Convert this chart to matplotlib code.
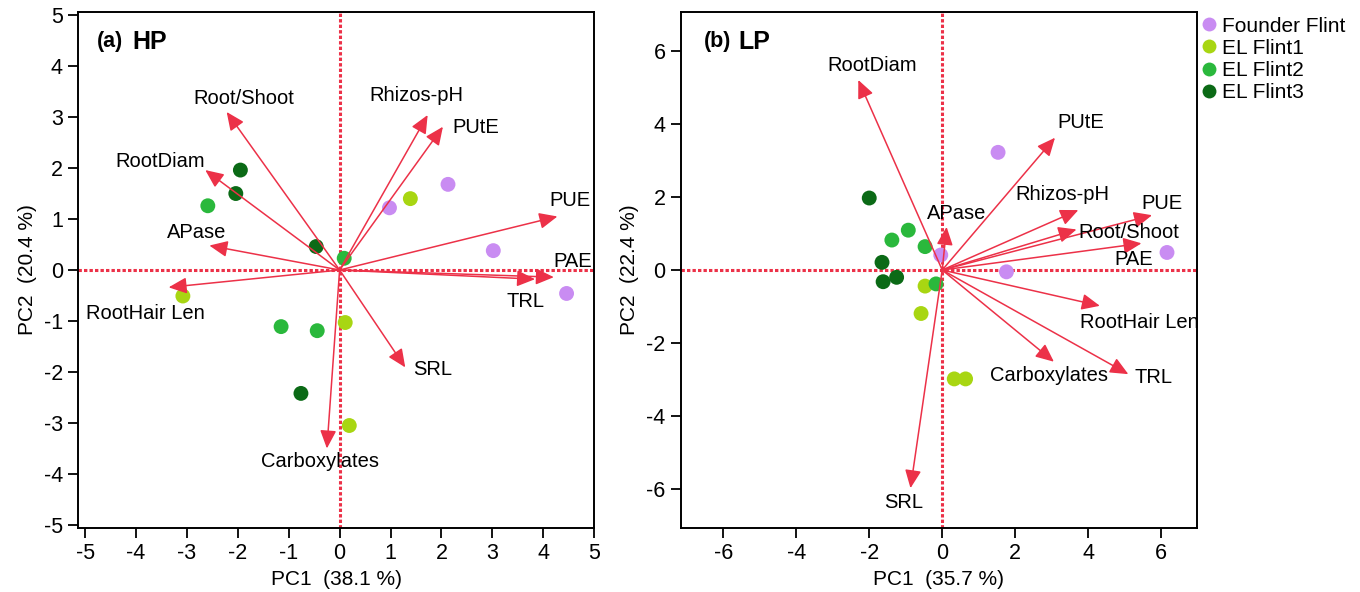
import matplotlib
matplotlib.use("Agg")
import matplotlib.pyplot as plt
from matplotlib.lines import Line2D

plt.rcParams["font.family"] = ["Liberation Sans", "DejaVu Sans"]
plt.rcParams["axes.unicode_minus"] = False   # plain hyphen minus like the original

GROUPS = ["Founder Flint", "EL Flint1", "EL Flint2", "EL Flint3"]
GROUP_COLORS = ["#c98cf2", "#a8d612", "#2ab83c", "#0b6a16"]

# PCA scores (PC1, PC2) per group
HP_PC1 = [[0.98, 2.13, 3.02, 4.46],
          [1.39, -3.08, 0.11, 0.19],
          [-2.59, 0.09, -1.15, -0.44],
          [-1.95, -2.04, -0.46, -0.76]]
HP_PC2 = [[1.22, 1.68, 0.38, -0.46],
          [1.40, -0.51, -1.03, -3.05],
          [1.26, 0.23, -1.11, -1.19],
          [1.96, 1.50, 0.46, -2.42]]
LP_PC1 = [[-0.04, 1.53, 1.76, 6.16],
          [-0.47, -0.58, 0.33, 0.64],
          [-0.93, -1.38, -0.47, -0.17],
          [-2.00, -1.65, -1.62, -1.25]]
LP_PC2 = [[0.41, 3.22, -0.05, 0.48],
          [-0.44, -1.19, -2.98, -2.98],
          [1.09, 0.82, 0.64, -0.38],
          [1.97, 0.21, -0.32, -0.20]]

# loadings (arrow tips)
HP_VARS = ["Root/Shoot", "RootDiam", "APase", "RootHair Len", "Rhizos-pH", "PUtE",
           "PUE", "PAE", "TRL", "SRL", "Carboxylates"]
HP_LOAD1 = [-2.22, -2.64, -2.56, -3.36, 1.73, 2.03, 4.28, 4.21, 3.84, 1.29, -0.25]
HP_LOAD2 = [3.10, 1.96, 0.48, -0.34, 3.04, 2.81, 1.05, -0.14, -0.18, -1.91, -3.50]

LP_VARS = ["RootDiam", "APase", "PUtE", "Rhizos-pH", "PUE", "Root/Shoot", "PAE",
           "RootHair Len", "Carboxylates", "TRL", "SRL"]
LP_LOAD1 = [-2.30, 0.12, 3.09, 3.73, 5.75, 3.68, 5.46, 4.32, 3.06, 5.10, -0.87]
LP_LOAD2 = [5.20, 1.18, 3.62, 1.64, 1.50, 1.11, 0.73, -0.98, -2.51, -2.85, -5.97]

# label placement (layout only)
HP_LABEL_XY = [(-1.88, 3.37), (-3.53, 2.12), (-2.81, 0.73), (-3.81, -0.85), (1.50, 3.43),
               (2.68, 2.79), (4.53, 1.37), (4.59, 0.16), (3.66, -0.62), (1.83, -1.95),
               (-0.38, -3.75)]
LP_LABEL_XY = [(-1.93, 5.61), (0.39, 1.55), (3.79, 4.03), (3.29, 2.07), (6.01, 1.82),
               (5.12, 1.03), (5.26, 0.29), (5.40, -1.43), (2.92, -2.90), (5.80, -2.94),
               (-1.07, -6.37)]

RED = "#ec3148"


def draw_panel(ax, pc1, pc2, names, l1, l2, label_xy, tag, cond, xlim, ylim, xticks, yticks,
               xlab, ylab):
    ax.set_xlim(*xlim)
    ax.set_ylim(*ylim)
    ax.axhline(0, color=RED, lw=2.2, ls=(0, (1.1, 0.7)), zorder=1)
    ax.axvline(0, color=RED, lw=2.2, ls=(0, (1.1, 0.7)), zorder=1)
    for xs, ys, c in zip(pc1, pc2, GROUP_COLORS):
        ax.scatter(xs, ys, s=115, color=c, edgecolors="none", zorder=3)
    for n, a, b, (tx, ty) in zip(names, l1, l2, label_xy):
        ax.annotate("", xy=(a, b), xytext=(0, 0),
                    arrowprops=dict(arrowstyle="-|>,head_length=0.85,head_width=0.38",
                                    mutation_scale=13, color=RED, lw=1.1,
                                    shrinkA=0, shrinkB=0), zorder=4)
        ax.text(tx, ty, n, ha="center", va="center", fontsize=14.5, zorder=5)
    ax.set_xticks(xticks)
    ax.set_yticks(yticks)
    ax.tick_params(direction="out", length=7, width=1.3, labelsize=15.5, pad=4)
    for s in ax.spines.values():
        s.set_linewidth(1.4)
    ax.set_xlabel(xlab, fontsize=15, labelpad=4)
    ax.set_ylabel(ylab, fontsize=15, labelpad=5)
    ax.text(0.037 if cond == "HP" else 0.045, 0.942, tag, transform=ax.transAxes,
            fontsize=15.5, fontweight="bold", va="center")
    ax.text(0.105 if cond == "HP" else 0.112, 0.942, cond, transform=ax.transAxes,
            fontsize=18, fontweight="bold", va="center")
    # the zero ticks are drawn in red, continuing the dotted lines
    for axis, vals in ((ax.xaxis, xticks), (ax.yaxis, yticks)):
        for tl, v in zip(axis.get_ticklines(), [t for t in vals for _ in (0, 1)]):
            if v == 0:
                tl.set_color(RED)


fig = plt.figure(figsize=(13.6, 5.92), dpi=100)
ax1 = fig.add_axes([0.0574, 0.1081, 0.3794, 0.8716])
ax2 = fig.add_axes([0.5007, 0.1081, 0.3794, 0.8716])

draw_panel(ax1, HP_PC1, HP_PC2, HP_VARS, HP_LOAD1, HP_LOAD2, HP_LABEL_XY, "(a)", "HP",
           (-5.14, 5.0), (-5.06, 5.06), list(range(-5, 6)), list(range(-5, 6)),
           "PC1  (38.1 %)", "PC2  (20.4 %)")
draw_panel(ax2, LP_PC1, LP_PC2, LP_VARS, LP_LOAD1, LP_LOAD2, LP_LABEL_XY, "(b)", "LP",
           (-7.16, 6.98), (-7.06, 7.06), [-6, -4, -2, 0, 2, 4, 6], [-6, -4, -2, 0, 2, 4, 6],
           "PC1  (35.7 %)", "PC2  (22.4 %)")

handles = [Line2D([], [], marker="o", ls="none", markersize=10, color=c, markeredgewidth=0)
           for c in GROUP_COLORS]
fig.legend(handles, GROUPS, loc="upper left", bbox_to_anchor=(0.876, 0.986), frameon=False,
           fontsize=15, handletextpad=0.15, labelspacing=0.15, borderaxespad=0,
           handlelength=0.9)

fig.savefig("out.png", dpi=100)
